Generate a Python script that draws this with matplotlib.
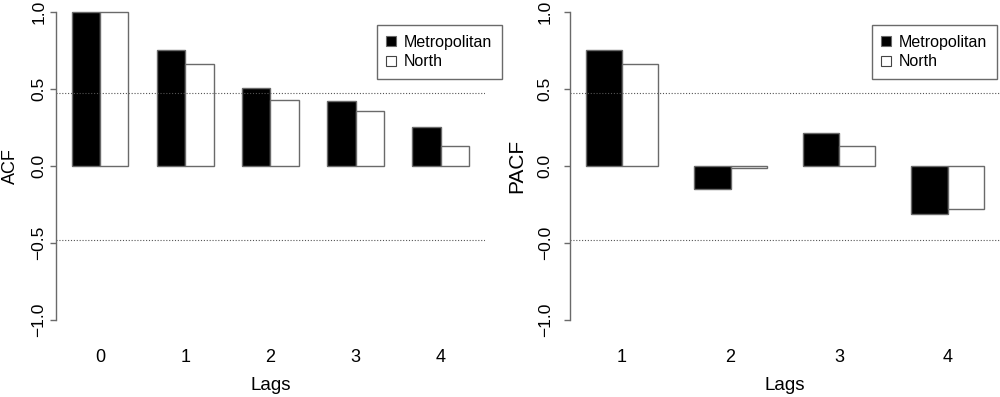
import matplotlib
matplotlib.use("Agg")
import matplotlib.pyplot as plt
from matplotlib.patches import Patch
import numpy as np

plt.rcParams['font.family'] = ['Liberation Sans', 'DejaVu Sans']

# ---- data ----
acf_lags = ["0", "1", "2", "3", "4"]
acf_metro = [1.0, 0.755, 0.51, 0.423, 0.252]
acf_north = [1.0, 0.664, 0.432, 0.356, 0.130]

pacf_lags = ["1", "2", "3", "4"]
pacf_metro = [0.755, -0.148, 0.219, -0.308]
pacf_north = [0.664, -0.014, 0.132, -0.275]

conf_limit = 0.477
series_names = ["Metropolitan", "North"]

acf_yticks = [-1.0, -0.5, 0.0, 0.5, 1.0]
acf_yticklabels = ["\u22121.0", "\u22120.5", "0.0", "0.5", "1.0"]
pacf_yticklabels = ["\u22121.0", "\u22120.0", "0.0", "0.5", "1.0"]

W, H = 1000, 397
fig = plt.figure(figsize=(W / 100, H / 100), dpi=100)

edge = '#6a6a6a'
axis_col = '#6a6a6a'


def panel(rect, lags, metro, north, yticklabels, ylab, ylab_x, ylab_size, ypad):
    ax = fig.add_axes(rect)
    n = len(lags)
    idx = np.arange(n)
    left_black = 3 * idx + 1
    left_white = 3 * idx + 2
    ax.bar(left_black, metro, width=1, align='edge', color='black',
           edgecolor=edge, linewidth=1.0)
    ax.bar(left_white, north, width=1, align='edge', color='white',
           edgecolor=edge, linewidth=1.0)
    ext = 0.04 * (3 * n - 1)
    ax.set_xlim(1 - ext, 3 * n + ext)
    ax.set_ylim(-1.08, 1.08)
    for v in (conf_limit, -conf_limit):
        ax.axhline(v, color='#555555', linestyle=(0, (1, 1.6)), linewidth=0.8)
    for s in ('top', 'right', 'bottom'):
        ax.spines[s].set_visible(False)
    ax.spines['left'].set_bounds(-1, 1)
    ax.spines['left'].set_color(axis_col)
    ax.spines['left'].set_linewidth(1.0)
    ax.set_yticks(acf_yticks)
    ax.set_yticklabels(yticklabels, rotation=90, va='center', fontsize=12.5)
    ax.tick_params(axis='y', length=4.3, width=1.0, color=axis_col, pad=ypad)
    ax.set_xticks(3 * idx + 2)
    ax.set_xticklabels(lags, fontsize=13)
    ax.tick_params(axis='x', length=0, pad=12)
    ax.patch.set_alpha(0)
    # labels
    cx = rect[0] + rect[2] / 2
    fig.text(cx, 1 - 390 / H, "Lags", ha='center', va='baseline', fontsize=13.5)
    fig.text(ylab_x, rect[1] + rect[3] / 2, ylab, rotation=90,
             ha='center', va='center', fontsize=ylab_size)
    return ax


ax_b = 1 - 332.6 / H
ax_h = 332.6 / H
ax1 = panel([55.8 / W, ax_b, 429.2 / W, ax_h], acf_lags, acf_metro, acf_north,
            acf_yticklabels, "ACF", 10.5 / W, 13, 2.5)
ax2 = panel([569.8 / W, ax_b, 430 / W, ax_h], pacf_lags, pacf_metro, pacf_north,
            pacf_yticklabels, "PACF", 517 / W, 15, 8)

handles = [Patch(facecolor='black', edgecolor=edge, linewidth=0.8),
           Patch(facecolor='white', edgecolor='#444444', linewidth=0.8)]

for x0 in (376.7, 871.7):
    fig.legend(handles, series_names, loc='upper left',
               bbox_to_anchor=(x0 / W, 1 - 25 / H), bbox_transform=fig.transFigure,
               frameon=True, fancybox=False, edgecolor='#6a6a6a', framealpha=1,
               fontsize=11.5, handlelength=0.6, handleheight=0.6,
               handletextpad=0.5, borderpad=0.6, labelspacing=0.3,
               borderaxespad=0)

fig.savefig("out.png", dpi=100)
